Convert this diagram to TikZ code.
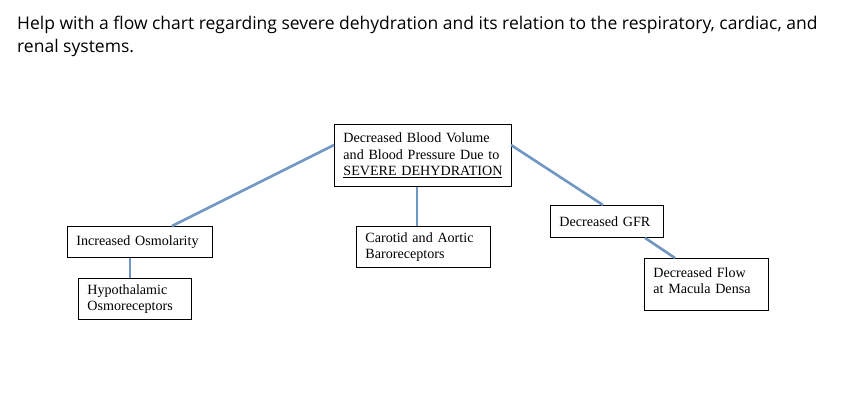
\documentclass[tikz,border=0pt]{standalone}
\usepackage{fontspec}
\setmainfont{Liberation Serif}
\newfontfamily\titlefont{Open Sans}
\definecolor{linkblue}{HTML}{7096C2}
\begin{document}
\begin{tikzpicture}[x=1pt,y=-1pt,
  box/.style={draw=black, line width=0.9pt, anchor=north west, align=left,
    inner xsep=9pt, inner ysep=0pt, font=\fontsize{14.1}{16.5}\selectfont},
  link/.style={draw=linkblue, line width=2.6pt}]
\useasboundingbox[fill=white] (0,0) rectangle (846,400);
\node[anchor=north west, align=left, inner sep=0pt, font=\titlefont\fontsize{17.5}{23}\selectfont]
  (title) at (17,16) {Help with a flow chart regarding severe dehydration and its relation to the respiratory, cardiac, and\\renal systems.};
\node[box, minimum width=177pt, minimum height=62pt, text width=159pt] (top) at (334,124)
  {Decreased Blood Volume\\and Blood Pressure Due to\\\underline{SEVERE DEHYDRATION}};
\node[box, minimum width=145pt, minimum height=31pt, text width=127pt] (osm) at (67,226)
  {Increased Osmolarity};
\node[box, minimum width=113pt, minimum height=41pt, text width=95pt] (hyp) at (78,278)
  {Hypothalamic\\Osmoreceptors};
\node[box, minimum width=134pt, minimum height=41pt, text width=116pt] (car) at (356,226)
  {Carotid and Aortic\\Baroreceptors};
\node[box, minimum width=113pt, minimum height=32pt, text width=95pt] (gfr) at (550,205)
  {Decreased GFR};
\node[box, minimum width=124pt, minimum height=52pt, text width=106pt, text depth=24pt] (mac) at (644,258)
  {Decreased Flow\\at Macula Densa};
\coordinate (t1) at (334,145);
\coordinate (t2) at (511,145);
\draw[link] (t1) -- (172,226) coordinate (o1);
\draw[link] (top.south -| 417,0) -- (car.north -| 417,0);
\draw[link] (t2) -- (gfr.north -| 603,0);
\draw[link] (osm.south -| 130,0) -- (hyp.north -| 130,0);
\draw[link] (gfr.south -| 645,0) -- (mac.north -| 675,0);
\end{tikzpicture}
\end{document}
